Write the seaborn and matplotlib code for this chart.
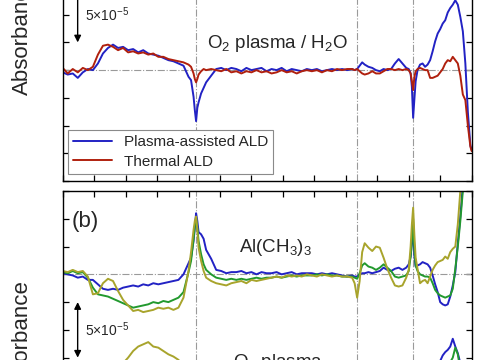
import matplotlib
matplotlib.use('Agg')
import matplotlib.pyplot as plt
from matplotlib.ticker import MultipleLocator
import pandas as pd
import seaborn as sns

# wavenumber grid (cm^-1), shared by all spectra
wavenumber = [4000, 3960, 3920, 3880, 3840, 3800, 3760, 3720, 3680, 3640,
              3600, 3560, 3520, 3480, 3440, 3400, 3360, 3320, 3280, 3240,
              3200, 3160, 3120, 3080, 3040, 3000,
              2980, 2960, 2950, 2940, 2930, 2920, 2900, 2880, 2860,
              2820, 2780, 2740, 2700, 2660, 2620, 2580, 2540, 2500, 2460,
              2420, 2380, 2340, 2300, 2260, 2220, 2180, 2140, 2100, 2060,
              2020, 1980, 1940, 1900, 1860, 1820, 1780, 1740, 1700,
              1680, 1660, 1640, 1620, 1600,
              1570, 1540, 1510, 1480, 1450, 1420, 1390, 1360, 1330, 1300,
              1270, 1250, 1235, 1225, 1215, 1205, 1195, 1180,
              1160, 1140, 1120, 1100, 1080, 1060, 1040, 1020, 1000,
              980, 960, 940, 920, 900, 880, 860, 840, 820, 800,
              780, 760, 750]

# (a) O2 plasma / H2O step, absorbance in units of 1e-5
plasma_ald = [-0.2, -0.4, -0.3, -0.7, -0.2, 0.1, 0.0, 0.6, 1.5, 2.0,
              2.3, 2.0, 2.1, 1.8, 1.9, 1.6, 1.8, 1.5, 1.4, 1.3,
              1.1, 0.9, 0.8, 0.6, 0.4, -0.6,
              -0.9, -2.4, -3.6, -4.6, -3.4, -2.9, -2.1, -1.6, -1.1,
              -0.5, 0.1, 0.2, 0.0, 0.2, 0.1, -0.1, 0.2, 0.0, 0.1,
              0.2, -0.1, 0.1, 0.0, 0.2, -0.1, 0.1, 0.0, -0.1, 0.1,
              0.0, 0.1, -0.1, 0.0, 0.1, 0.0, 0.1, 0.0, 0.1,
              0.0, 0.1, 0.4, 0.7, 0.5,
              0.3, 0.2, 0.0, -0.1, 0.1, 0.0, 0.1, 0.6, 1.0, 0.6,
              0.2, 0.1, -0.3, -1.5, -4.3, -2.6, -1.0, 0.0,
              0.5, 0.6, 0.3, 0.5, 0.9, 1.7, 2.6, 3.3, 3.7,
              4.2, 4.5, 5.2, 5.6, 5.9, 6.3, 5.9, 4.8, 3.5, 0.6,
              -3.8, -6.8, -7.2]
thermal_ald = [0.2, -0.3, 0.1, -0.2, 0.2, 0.0, 0.3, 1.4, 2.2, 2.3,
               2.1, 1.8, 2.0, 1.6, 1.7, 1.5, 1.6, 1.4, 1.5, 1.2,
               1.2, 1.0, 0.9, 0.8, 0.7, 0.5,
               0.3, -0.3, -0.8, -1.1, -0.8, -0.4, -0.1, 0.1, 0.0,
               0.1, 0.0, -0.1, 0.1, -0.2, -0.1, -0.3, -0.1, -0.2, 0.0,
               -0.2, -0.1, -0.3, -0.2, 0.0, -0.2, -0.1, -0.3, -0.1, 0.0,
               -0.1, 0.0, -0.2, 0.0, -0.1, 0.1, 0.0, 0.1, 0.1,
               0.0, 0.1, -0.1, -0.3, -0.4,
               -0.3, -0.1, -0.3, -0.3, -0.1, 0.1, 0.1, 0.0, 0.1, 0.0,
               0.1, 0.0, -0.3, -1.0, -1.8, -0.6, -0.1, 0.1,
               0.2, 0.1, 0.0, 0.0, -0.7, -0.7, -0.6, -0.5, -0.2,
               0.1, 0.6, 0.9, 0.8, 1.2, 0.9, 0.6, -0.5, -2.2, -2.7,
               -5.0, -6.9, -7.3]

# (b) Al(CH3)3 step
tma_blue = [0.1, 0.0, -0.1, -0.3, -0.2, -0.5, -0.5, -0.9, -1.3, -1.4,
            -1.3, -1.4, -1.2, -1.1, -1.0, -1.1, -0.9, -1.0, -0.8, -0.9,
            -0.8, -0.7, -0.6, -0.5, 0.0, 1.0,
            1.5, 3.0, 4.2, 5.5, 4.8, 3.8, 3.6, 3.2, 2.2,
            1.4, 0.4, 0.3, 0.1, 0.2, 0.2, 0.3, 0.1, 0.2, 0.0,
            0.2, 0.1, 0.1, 0.2, 0.0, 0.1, 0.2, 0.0, 0.1, 0.1,
            0.1, 0.0, 0.1, 0.0, 0.1, 0.0, -0.1, -0.2, -0.1,
            -0.2, -0.2, 0.0, 0.1, 0.1,
            0.2, 0.1, 0.2, 0.3, 0.6, 0.4, 0.3, 0.5, 0.6, 0.4,
            0.6, 0.9, 1.6, 2.8, 4.0, 1.6, 0.7, 0.8,
            0.9, 1.1, 1.0, 0.9, 0.6, -0.1, -0.9, -1.6, -2.5,
            -2.7, -2.8, -2.7, -2.0, -1.0, 0.2, 2.8, 5.2, 8.0, 10.5,
            13.0, 15.0, 16.0]
tma_green = [0.2, 0.1, 0.3, 0.1, 0.2, -0.3, -1.2, -1.8, -1.9, -2.0,
             -2.2, -2.4, -2.6, -2.8, -3.0, -2.9, -2.8, -2.7, -2.5, -2.6,
             -2.4, -2.5, -2.3, -2.1, -1.6, 0.2,
             1.2, 3.2, 4.3, 5.1, 4.2, 3.0, 1.8, 0.9, 0.4,
             0.0, -0.3, -0.4, -0.5, -0.4, -0.5, -0.4, -0.5, -0.4, -0.3,
             -0.4, -0.3, -0.3, -0.2, -0.3, -0.2, -0.1, -0.2, -0.1, -0.1,
             -0.1, 0.0, -0.1, 0.0, -0.1, -0.1, -0.2, -0.2, -0.2,
             -0.3, -0.4, 0.1, 0.8, 1.0,
             0.7, 0.6, 0.4, 0.6, 0.9, 0.6, 0.3, -0.2, -0.3, -0.2,
             -0.1, 0.3, 1.6, 3.0, 5.0, 2.2, 0.8, 0.3,
             0.0, -0.1, -0.2, -0.2, -0.3, -0.8, -1.4, -1.7, -1.9,
             -2.0, -2.1, -2.0, -1.9, -1.3, 0.5, 2.5, 4.8, 7.5, 10.0,
             12.0, 14.0, 15.0]
tma_olive = [0.3, 0.2, 0.4, 0.2, 0.3, -0.2, -1.8, -1.7, -0.8, -0.4,
             -0.6, -1.5, -2.3, -2.8, -3.3, -3.2, -3.4, -3.3, -3.2, -3.0,
             -3.1, -3.0, -3.2, -3.0, -2.1, 0.3,
             2.0, 4.0, 4.8, 5.2, 4.0, 2.4, 1.2, 0.3, -0.3,
             -0.6, -0.8, -0.9, -1.0, -0.8, -0.7, -0.6, -0.8, -0.5, -0.6,
             -0.5, -0.4, -0.3, -0.2, -0.3, -0.1, -0.2, -0.1, -0.2, 0.0,
             -0.1, -0.2, 0.0, -0.1, -0.2, -0.1, -0.2, -0.2, -0.3,
             -0.8, -2.1, -0.6, 2.0, 2.8,
             2.4, 2.1, 2.5, 2.4, 1.5, 0.5, -0.3, -1.0, -1.1, -1.0,
             -0.3, 0.4, 2.5, 4.5, 6.0, 3.5, 1.5, 0.5,
             -0.8, -0.6, -0.5, -0.8, -0.2, 0.4, 0.8, 1.1, 1.2,
             1.3, 1.6, 1.4, 2.0, 2.3, 2.5, 4.5, 7.5, 10.0, 12.0,
             14.0, 15.0, 16.0]

# (b) O2 plasma step, drawn below the Al(CH3)3 spectra
o2_blue = [0.0, 0.1, 0.0, 0.2, 0.1, 0.3, 0.4, 0.7, 1.0, 1.2,
           1.1, 1.2, 1.0, 0.9, 0.9, 0.8, 0.8, 0.7, 0.7, 0.6,
           0.6, 0.5, 0.5, 0.4, 0.1, -0.8,
           -1.5, -3.0, -4.2, -5.0, -4.4, -3.5, -3.0, -2.5, -1.8,
           -1.2, -0.4, -0.2, -0.1, -0.2, -0.1, -0.2, 0.0, -0.1, 0.0,
           -0.1, 0.0, -0.1, 0.0, 0.1, 0.0, -0.1, 0.0, 0.1, 0.0,
           0.0, 0.1, 0.0, 0.1, 0.0, 0.1, 0.0, 0.1, 0.0,
           0.1, 0.1, 0.3, 0.5, 0.4,
           0.2, 0.0, -0.1, -0.2, -0.3, -0.2, -0.3, -0.4, -0.5, -0.4,
           -0.5, -0.8, -1.5, -2.5, -3.5, -1.6, -0.7, -0.6,
           -0.8, -0.9, -0.7, -0.4, 0.1, 0.6, 1.2, 1.7, 2.2,
           2.7, 3.0, 3.2, 3.5, 4.2, 3.5, 2.9, 2.0, -2.0, -6.0,
           -9.0, -11.0, -12.0]
o2_green = [0.0, -0.1, 0.1, 0.0, 0.1, 0.4, 1.0, 1.4, 1.6, 1.7,
            1.8, 1.9, 1.9, 2.0, 2.0, 1.9, 1.9, 1.8, 1.7, 1.7,
            1.6, 1.6, 1.5, 1.3, 1.0, -0.2,
            -1.0, -2.8, -3.8, -4.6, -3.8, -2.6, -1.5, -0.8, -0.3,
            0.0, 0.2, 0.3, 0.4, 0.3, 0.4, 0.3, 0.3, 0.2, 0.3,
            0.2, 0.2, 0.3, 0.1, 0.2, 0.1, 0.1, 0.2, 0.0, 0.1,
            0.0, 0.1, 0.0, 0.1, 0.0, 0.1, 0.1, 0.2, 0.1,
            0.2, 0.3, 0.0, -0.6, -0.8,
            -0.5, -0.4, -0.3, -0.5, -0.7, -0.4, -0.2, 0.2, 0.3, 0.2,
            0.1, -0.3, -1.5, -2.8, -4.5, -2.0, -0.7, -0.2,
            0.0, 0.1, 0.1, 0.2, 0.3, 0.7, 1.1, 1.4, 1.5,
            1.6, 1.8, 2.0, 2.1, 2.5, 3.4, 2.8, 1.4, -2.5, -6.0,
            -9.0, -11.0, -12.0]
o2_olive = [-0.2, -0.1, -0.3, -0.1, -0.2, 0.2, 1.6, 1.5, 0.8, 0.5,
            0.8, 1.4, 2.0, 2.5, 3.1, 3.5, 3.7, 3.9, 3.5, 3.4,
            3.1, 2.8, 2.6, 2.3, 1.8, 0.0,
            -1.8, -3.5, -4.4, -4.8, -3.8, -2.3, -1.2, -0.3, 0.2,
            0.5, 0.7, 0.8, 0.9, 0.8, 0.7, 0.6, 0.7, 0.5, 0.5,
            0.4, 0.4, 0.3, 0.2, 0.3, 0.1, 0.2, 0.1, 0.2, 0.0,
            0.1, 0.2, 0.0, 0.1, 0.2, 0.1, 0.2, 0.2, 0.3,
            0.7, 1.8, 0.6, -1.8, -2.6,
            -2.3, -2.0, -2.3, -2.2, -1.4, -0.5, 0.3, 0.9, 1.0, 0.9,
            0.3, -0.4, -2.3, -4.2, -5.6, -3.2, -1.3, -0.4,
            0.7, 0.5, 0.4, 0.7, 0.2, -0.3, -0.7, -1.0, -1.1,
            -1.2, -1.4, -1.3, -1.8, -2.1, -2.3, -4.0, -6.5, -9.0, -11.0,
            -13.0, -14.0, -15.0]

o2_offset = -10.0
ref_lines = [2940, 1660, 1215]

top = pd.DataFrame({'wavenumber': wavenumber, 'plasma': plasma_ald, 'thermal': thermal_ald})
bot = pd.DataFrame({'wavenumber': wavenumber,
                    'tma_blue': tma_blue, 'tma_green': tma_green, 'tma_olive': tma_olive})
for name, vals in [('o2_blue', o2_blue), ('o2_green', o2_green), ('o2_olive', o2_olive)]:
    bot[name] = [v + o2_offset for v in vals]

BLUE = '#2222c4'
RED = '#b0200e'
GREEN = '#22992e'
OLIVE = '#a8a42c'
GRID = '#9a9a9a'

sns.set_style('ticks')
plt.rcParams['font.family'] = ['Liberation Sans', 'DejaVu Sans']
plt.rcParams['mathtext.default'] = 'regular'

fig = plt.figure(figsize=(4.8, 3.6), dpi=100)
ax1 = fig.add_axes([0.1306, 0.4972, 0.852, 0.616])
ax2 = fig.add_axes([0.1306, 0.4694 - 0.8486, 0.852, 0.8486])

for ax in (ax1, ax2):
    for x in ref_lines:
        ax.axvline(x, color=GRID, lw=0.8, ls='-.', zorder=1)
    ax.axhline(0, color=GRID, lw=0.8, ls='-.', zorder=1)
ax2.axhline(o2_offset, color=GRID, lw=0.8, ls='-.', zorder=1)

sns.lineplot(data=top, x='wavenumber', y='plasma', ax=ax1, color=BLUE, lw=1.4,
             estimator=None, label='Plasma-assisted ALD')
sns.lineplot(data=top, x='wavenumber', y='thermal', ax=ax1, color=RED, lw=1.4,
             estimator=None, label='Thermal ALD')

for col, c in [('tma_blue', BLUE), ('tma_green', GREEN), ('tma_olive', OLIVE),
               ('o2_blue', BLUE), ('o2_green', GREEN), ('o2_olive', OLIVE)]:
    sns.lineplot(data=bot, x='wavenumber', y=col, ax=ax2, color=c, lw=1.4, estimator=None)

ax1.set_ylim(-10, 10)
ax2.set_ylim(-20, 7.5)
for ax in (ax1, ax2):
    ax.set_xlim(4000, 750)
    ax.xaxis.set_major_locator(MultipleLocator(250))
    ax.yaxis.set_major_locator(MultipleLocator(2.5))
    ax.tick_params(direction='in', top=True, right=True, bottom=True, left=True,
                   labelbottom=False, labelleft=False, length=4, width=0.9, color='black')
    ax.set_xlabel('')
    ax.set_ylabel('')
    for s in ax.spines.values():
        s.set_linewidth(1.0)
        s.set_color('black')

leg = ax1.legend(loc='lower left', bbox_to_anchor=(0.013, 0.032), borderaxespad=0,
                 frameon=True, fancybox=False, edgecolor='#8a8a8a', framealpha=1,
                 fontsize=11, handlelength=2.5, labelspacing=0.35, borderpad=0.35)
leg.get_frame().set_linewidth(0.8)

# scale bars
arrow = dict(arrowstyle='<|-|>', color='black', lw=1.0, mutation_scale=10, shrinkA=0, shrinkB=0)
ax1.annotate('', xy=(3881, 2.5), xytext=(3881, 7.5), arrowprops=arrow)
ax1.text(3823, 5.0, '5×10$^{-5}$', fontsize=10, ha='left', va='center')
ax2.annotate('', xy=(3881, -7.5), xytext=(3881, -2.5), arrowprops=arrow)
ax2.text(3823, -5.0, '5×10$^{-5}$', fontsize=10, ha='left', va='center')

ax1.text(2853, 2.0, 'O$_2$ plasma / H$_2$O', fontsize=13.5, ha='left', va='baseline')
ax2.text(3926, 4.3, '(b)', fontsize=16, ha='left', va='baseline')
ax2.text(2600, 2.05, 'Al(CH$_3$)$_3$', fontsize=13.5, ha='left', va='baseline')
ax2.text(2647, -8.35, 'O$_2$ plasma', fontsize=13.5, ha='left', va='baseline')

fig.text(0.046, 0.90, 'Absorbance', rotation=90, fontsize=16, ha='center', va='center')
fig.text(0.046, 0.058, 'Absorbance', rotation=90, fontsize=16, ha='center', va='center')

fig.savefig('out.png', dpi=100)
